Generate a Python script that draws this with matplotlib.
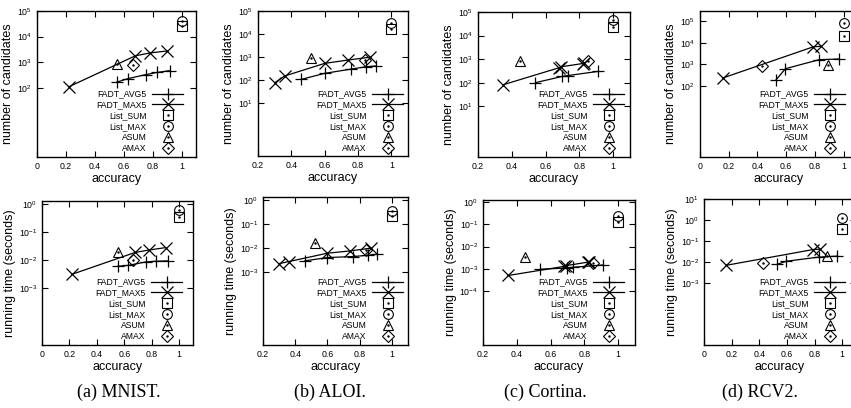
import matplotlib
matplotlib.use("Agg")
import matplotlib.pyplot as plt
from matplotlib.lines import Line2D
from matplotlib.legend_handler import HandlerTuple
from matplotlib.ticker import NullLocator

plt.rcParams['font.family'] = ['Liberation Sans', 'DejaVu Sans']
plt.rcParams['mathtext.default'] = 'regular'

# ---------------- data ----------------
datasets = ["MNIST", "ALOI", "Cortina", "RCV2"]
captions = ["(a) MNIST.", "(b) ALOI.", "(c) Cortina.", "(d) RCV2."]

# FADT_AVG5
avg_acc = {
    "MNIST": [0.55, 0.63, 0.755, 0.83, 0.92],
    "ALOI": [0.46, 0.60, 0.76, 0.85, 0.91],
    "Cortina": [0.54, 0.70, 0.73, 0.91],
    "RCV2": [0.53, 0.595, 0.83, 0.965],
}
avg_cand = {
    "MNIST": [165, 230, 330, 400, 470],
    "ALOI": [107, 195, 300, 380, 410],
    "Cortina": [100, 185, 200, 300],
    "RCV2": [190, 620, 1630, 1750],
}
avg_time = {
    "MNIST": [0.0061, 0.0066, 0.0087, 0.0092, 0.0095],
    "ALOI": [0.0030, 0.0041, 0.0045, 0.0051, 0.0056],
    "Cortina": [0.00097, 0.0011, 0.00118, 0.0015],
    "RCV2": [0.0077, 0.0108, 0.017, 0.019],
}

# FADT_MAX5
max_acc = {
    "MNIST": [0.22, 0.68, 0.78, 0.90],
    "ALOI": [0.30, 0.36, 0.60, 0.74, 0.87],
    "Cortina": [0.35, 0.68, 0.69, 0.82, 0.83],
    "RCV2": [0.16, 0.79, 0.84],
}
max_cand = {
    "MNIST": [110, 1780, 2300, 2760],
    "ALOI": [76, 150, 530, 740, 980],
    "Cortina": [82, 430, 470, 650, 700],
    "RCV2": [230, 6500, 6800],
}
max_time = {
    "MNIST": [0.0032, 0.019, 0.023, 0.028],
    "ALOI": [0.0023, 0.0028, 0.0062, 0.0077, 0.010],
    "Cortina": [0.00051, 0.0013, 0.0014, 0.0020, 0.0021],
    "RCV2": [0.0069, 0.039, 0.041],
}

# single-point baselines: (accuracy, candidates, time)
list_sum = {"MNIST": (1.0, 26000, 0.35), "ALOI": (1.0, 16000, 0.21),
            "Cortina": (1.0, 24000, 0.12), "RCV2": (1.0, 21500, 0.36)}
list_max = {"MNIST": (1.0, 40000, 0.59), "ALOI": (1.0, 30000, 0.33),
            "Cortina": (1.0, 45000, 0.22), "RCV2": (1.0, 83000, 1.2)}
asum = {"MNIST": (0.55, 860, 0.019), "ALOI": (0.52, 870, 0.016),
        "Cortina": (0.45, 800, 0.0035), "RCV2": (0.89, 950, 0.019)}
amax = {"MNIST": (0.665, 750, 0.010), "ALOI": (0.84, 740, 0.0083),
        "Cortina": (0.85, 800, 0.0018), "RCV2": (0.43, 800, 0.0090)}

# axis settings
xlims = {"MNIST": (0, 1.1), "ALOI": (0.2, 1.1), "Cortina": (0.2, 1.1), "RCV2": (0, 1.1)}
xticks = {"MNIST": [0, 0.2, 0.4, 0.6, 0.8, 1], "ALOI": [0.2, 0.4, 0.6, 0.8, 1],
          "Cortina": [0.2, 0.4, 0.6, 0.8, 1], "RCV2": [0, 0.2, 0.4, 0.6, 0.8, 1]}
xticklabels = {"MNIST": ["0", "0.2", "0.4", "0.6", "0.8", "1"],
               "ALOI": ["0.2", "0.4", "0.6", "0.8", "1"],
               "Cortina": ["0.2", "0.4", "0.6", "0.8", "1"],
               "RCV2": ["0", "0.2", "0.4", "0.6", "0.8", "1"]}
cand_ylim = {"MNIST": (0.2, 1e5), "ALOI": (0.05, 1e5), "Cortina": (0.07, 1e5), "RCV2": (0.048, 3e5)}
cand_ticks = {"MNIST": [1e2, 1e3, 1e4, 1e5], "ALOI": [1e1, 1e2, 1e3, 1e4, 1e5],
              "Cortina": [1e1, 1e2, 1e3, 1e4, 1e5], "RCV2": [1e2, 1e3, 1e4, 1e5]}
time_ylim = {"MNIST": (1e-5, 1.25), "ALOI": (1e-6, 1.3), "Cortina": (4e-7, 1.2), "RCV2": (1.1e-6, 10)}
time_ticks = {"MNIST": [1e-3, 1e-2, 1e-1, 1e0], "ALOI": [1e-3, 1e-2, 1e-1, 1e0],
              "Cortina": [1e-4, 1e-3, 1e-2, 1e-1, 1e0], "RCV2": [1e-3, 1e-2, 1e-1, 1e0, 1e1]}

# ---------------- layout (pixel boxes: left, right, top, bottom) ----------------
W, H = 851, 408
top_boxes = [(37, 196, 11, 157), (258, 408, 11, 156), (478, 630, 12, 157), (700, 858, 11, 157)]
bot_boxes = [(42, 193, 201, 345), (263, 408, 197, 345), (483, 635, 200, 345), (704, 856, 199, 345)]
top_legend_right = [183, 403, 624, 845]
bot_legend_right = [182, 403, 624, 845]
caption_x = [119, 330, 545, 760]

fig = plt.figure(figsize=(W / 100, H / 100), dpi=100)

LW = 0.9
MS_PLUS, MS_X, MS_OPEN = 8, 8.5, 7


def add_axes(box):
    l, r, t, b = box
    return fig.add_axes([l / W, 1 - b / H, (r - l) / W, (b - t) / H])


def dotted(marker):
    ms = MS_OPEN - 1 if marker == 'D' else MS_OPEN
    return (Line2D([], [], ls='none', marker=marker, ms=ms, mfc='none', mec='k', mew=0.8),
            Line2D([], [], ls='none', marker='.', ms=1.5, mfc='k', mec='k'))


def draw_panel(ax, name, ydata_idx, ylabel, ylim, yt, legend_right, legend_bottom):
    ax.set_yscale('log')
    ya = avg_cand[name] if ydata_idx == 1 else avg_time[name]
    ym = max_cand[name] if ydata_idx == 1 else max_time[name]
    ax.plot(avg_acc[name], ya, color='k', lw=LW, marker='+', ms=MS_PLUS, mew=0.9)
    ax.plot(max_acc[name], ym, color='k', lw=LW, marker='x', ms=MS_X, mew=0.9)
    for pts, mk in ((list_sum, 's'), (list_max, 'o'), (asum, '^'), (amax, 'D')):
        p = pts[name]
        ms = MS_OPEN - 1 if mk == 'D' else MS_OPEN
        ax.plot([p[0]], [p[ydata_idx]], ls='none', marker=mk, ms=ms, mfc='none', mec='k', mew=0.8)
        ax.plot([p[0]], [p[ydata_idx]], ls='none', marker='.', ms=1.5, color='k')

    ax.set_xlim(*xlims[name])
    ax.set_ylim(*ylim)
    ax.set_xticks(xticks[name])
    ax.set_xticklabels(xticklabels[name])
    ax.set_yticks(yt)
    ax.yaxis.set_minor_locator(NullLocator())
    ax.xaxis.set_minor_locator(NullLocator())
    ax.tick_params(direction='in', length=4, width=0.8, top=True, right=True,
                   labelsize=6.3, pad=3.5)
    for s in ax.spines.values():
        s.set_linewidth(1.0)
    ax.set_xlabel("accuracy", fontsize=9, labelpad=1.5)
    ax.set_ylabel(ylabel, fontsize=9, labelpad=2)

    h_avg = Line2D([], [], color='k', lw=LW, marker='+', ms=MS_PLUS, mew=0.9)
    h_max = Line2D([], [], color='k', lw=LW, marker='x', ms=MS_X, mew=0.9)
    handles = [h_avg, h_max, dotted('s'), dotted('o'), dotted('^'), dotted('D')]
    labels = ["FADT_AVG5", "FADT_MAX5", "List_SUM", "List_MAX", "ASUM", "AMAX"]
    ax.legend(handles, labels, loc='lower right', frameon=False, markerfirst=False,
              fontsize=6.2, handlelength=3.6, handletextpad=0.6, labelspacing=0.22,
              borderpad=0, borderaxespad=0, numpoints=1,
              handler_map={tuple: HandlerTuple(ndivide=1, pad=0)},
              bbox_to_anchor=(legend_right / W, 1 - legend_bottom / H),
              bbox_transform=fig.transFigure)


for i, name in enumerate(datasets):
    ax_top = add_axes(top_boxes[i])
    draw_panel(ax_top, name, 1, "number of candidates", cand_ylim[name], cand_ticks[name],
               top_legend_right[i], 153)
    ax_bot = add_axes(bot_boxes[i])
    draw_panel(ax_bot, name, 2, "running time (seconds)", time_ylim[name], time_ticks[name],
               bot_legend_right[i], 341)
    fig.text(caption_x[i] / W, 1 - 392 / H, captions[i], ha='center', va='center',
             family='Liberation Serif', fontsize=13)

fig.savefig("out.png", dpi=100)
